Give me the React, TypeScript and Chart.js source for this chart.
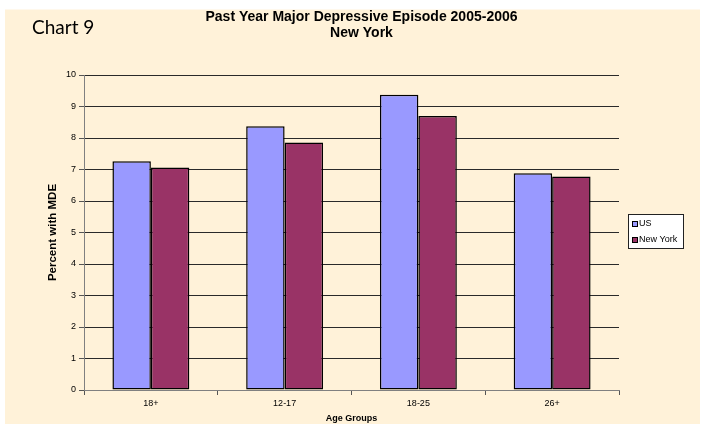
import { useEffect, useRef } from "react";
import { Chart, registerables } from "chart.js";

Chart.register(...registerables);

const categories = ["18+", "12-17", "18-25", "26+"];
const seriesNames = ["US", "New York"];
const usValues = [7.26, 8.37, 9.37, 6.88];
const nyValues = [7.06, 7.86, 8.7, 6.78];
const seriesColors = ["#9999FF", "#993366"];
const titleLines = ["Past Year Major Depressive Episode 2005-2006", "New York"];
const chartLabel = "Chart 9";
const yAxisTitle = "Percent with MDE";
const xAxisTitle = "Age Groups";
const yMin = 0;
const yMax = 10;
const yStep = 1;

const FONT = "'Liberation Sans', Arial, sans-serif";
const CREAM = "#FFF2D9";

const decorPlugin = {
  id: "decor",
  beforeDraw(chart: any) {
    const { ctx, width, height } = chart;
    ctx.save();
    ctx.fillStyle = "#ffffff";
    ctx.fillRect(0, 0, width, height);
    ctx.fillStyle = CREAM;
    ctx.fillRect(5, 9.5, 695, height - 9.5);
    ctx.restore();
  },
  afterDraw(chart: any) {
    const { ctx } = chart;
    ctx.save();
    ctx.fillStyle = "#000";
    ctx.textBaseline = "alphabetic";
    ctx.textAlign = "left";
    ctx.font = "19px Lato, 'Noto Sans', sans-serif";
    ctx.fillText(chartLabel, 32, 34);
    ctx.textAlign = "center";
    ctx.font = "bold 14px " + FONT;
    ctx.fillText(titleLines[0], 361.5, 20.5);
    ctx.fillText(titleLines[1], 361.5, 37.3);
    const lx = 628, ly = 214, lw = 55, lh = 34;
    ctx.fillStyle = "#fff";
    ctx.fillRect(lx, ly, lw, lh);
    ctx.strokeStyle = "#222";
    ctx.lineWidth = 1;
    ctx.strokeRect(lx + 0.5, ly + 0.5, lw, lh);
    ctx.font = "9px " + FONT;
    ctx.textAlign = "left";
    ctx.textBaseline = "middle";
    chart.data.datasets.forEach((ds: any, i: number) => {
      const cy = ly + 9.5 + i * 16;
      ctx.fillStyle = ds.backgroundColor;
      ctx.fillRect(lx + 4, cy - 2.5, 5, 5);
      ctx.strokeStyle = "#000";
      ctx.strokeRect(lx + 4.5, cy - 2, 5, 5);
      ctx.fillStyle = "#000";
      ctx.fillText(ds.label, lx + 11, cy + 0.5);
    });
    ctx.restore();
  },
};

export default function App() {
  const ref = useRef<HTMLCanvasElement | null>(null);

  useEffect(() => {
    document.body.style.margin = "0";
    const canvas = ref.current;
    if (!canvas) return;
    const makeDs = (i: number, data: number[]) => ({
      label: seriesNames[i],
      data,
      backgroundColor: seriesColors[i],
      borderColor: "#000",
      borderWidth: 1.5,
      borderSkipped: false,
      categoryPercentage: 0.575,
      barPercentage: 1,
    });
    const chart = new Chart(canvas, {
      type: "bar",
      data: {
        labels: categories,
        datasets: [makeDs(0, usValues), makeDs(1, nyValues)],
      },
      options: {
        responsive: false,
        animation: false,
        devicePixelRatio: 1,
        layout: { padding: { top: 75, right: 88, left: 0, bottom: 0 } },
        plugins: {
          legend: { display: false },
          title: { display: false },
          tooltip: { enabled: false },
        },
        scales: {
          x: {
            grid: {
              display: true,
              drawOnChartArea: false,
              drawTicks: true,
              tickLength: 5,
              color: "#555",
              offset: true,
            },
            border: { display: true, color: "#808080", width: 1 },
            ticks: {
              color: "#000",
              font: { family: FONT, size: 9 },
              padding: 3,
              maxRotation: 0,
            },
            title: {
              display: true,
              text: xAxisTitle,
              color: "#000",
              font: { family: FONT, size: 9, weight: "bold" },
              padding: { top: 0, bottom: 0 },
            },
            afterFit(scale: any) {
              scale.height = 34;
            },
          },
          y: {
            min: yMin,
            max: yMax,
            grid: {
              color: "#2a2a2a",
              lineWidth: 1,
              drawTicks: true,
              tickLength: 5,
              tickColor: "#555",
            },
            border: { display: true, color: "#808080", width: 1 },
            ticks: {
              stepSize: yStep,
              color: "#000",
              font: { family: FONT, size: 9 },
              padding: 3,
            },
            title: {
              display: true,
              text: yAxisTitle,
              color: "#000",
              font: { family: FONT, size: 11.5, weight: "bold" },
              padding: { top: 46, bottom: 0 },
            },
            afterFit(scale: any) {
              scale.width = 84;
            },
          },
        },
      },
      plugins: [decorPlugin],
    });
    return () => chart.destroy();
  }, []);

  return <canvas ref={ref} width={707} height={424} style={{ display: "block" }} />;
}
